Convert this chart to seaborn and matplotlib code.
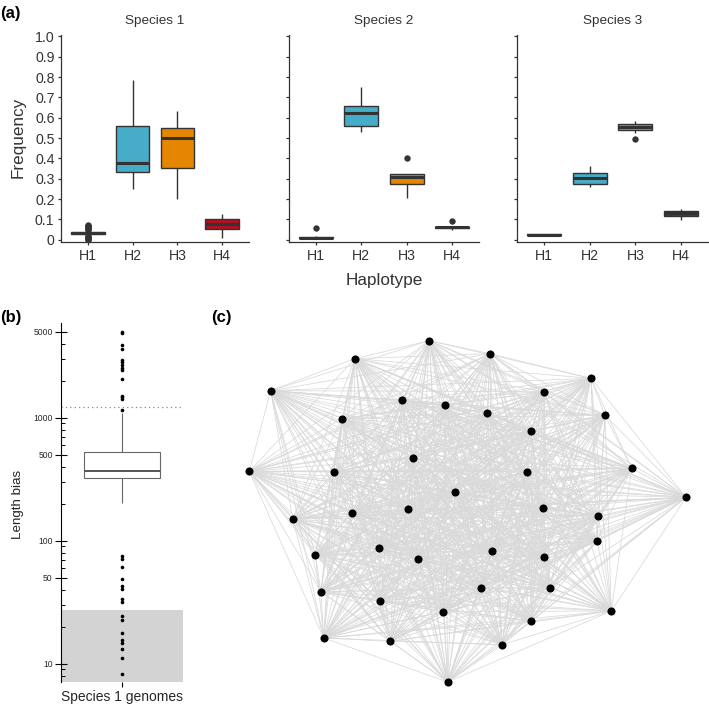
import itertools
import numpy as np
import pandas as pd
import matplotlib
matplotlib.use('Agg')
import matplotlib.pyplot as plt
from matplotlib.collections import LineCollection
import seaborn as sns

# ---- (a) haplotype frequencies: (min, q1, median, q3, max) per haplotype ----
haplotypes = ['H1', 'H2', 'H3', 'H4']
hap_colors = ['#E2D200', '#46ACC8', '#E58601', '#B40F20']
species = ['Species 1', 'Species 2', 'Species 3']

sp1_boxes = [[0.024, 0.029, 0.034, 0.039, 0.045],
             [0.249, 0.331, 0.377, 0.557, 0.784],
             [0.200, 0.354, 0.500, 0.548, 0.634],
             [0.011, 0.051, 0.079, 0.100, 0.128]]
sp2_boxes = [[0.003, 0.007, 0.011, 0.015, 0.019],
             [0.531, 0.559, 0.623, 0.659, 0.751],
             [0.207, 0.275, 0.308, 0.325, 0.325],
             [0.050, 0.056, 0.061, 0.065, 0.068]]
sp3_boxes = [[0.020, 0.021, 0.025, 0.029, 0.030],
             [0.257, 0.275, 0.302, 0.330, 0.364],
             [0.525, 0.541, 0.556, 0.569, 0.585],
             [0.098, 0.116, 0.130, 0.143, 0.152]]

sp1_outliers = [[0.0, 0.004, 0.008, 0.012, 0.016, 0.020, 0.050, 0.054, 0.058,
                 0.062, 0.066, 0.070, 0.074], [], [], []]
sp2_outliers = [[0.057], [], [0.403], [0.093]]
sp3_outliers = [[], [], [0.497], []]

freq_ticks = [0, 0.1, 0.2, 0.3, 0.4, 0.5, 0.6, 0.7, 0.8, 0.9, 1.0]
freq_labels = ['0', '0.1', '0.2', '0.3', '0.4', '0.5', '0.6', '0.7', '0.8', '0.9', '1.0']

# ---- (b) length bias ----
lb_category = 'Species 1 genomes'
lb_box = [204, 325, 371, 530, 1095]
lb_high = [4966, 4870, 3873, 3614, 2963, 2818, 2681, 2564, 2455, 2062,
           1510, 1463, 1418, 1147]
lb_low = [75.5, 71, 60.7, 48.8, 43, 40.4, 33.6, 31.9, 24.3, 22.8, 17.9,
          15.7, 14.7, 13.2, 11.1, 8.2]
lb_upper_cut = 1228
lb_lower_cut = 27.5
lb_major = [10, 50, 100, 500, 1000, 5000]
lb_minor = [8, 9, 20, 30, 40, 60, 70, 80, 90, 200, 300, 400, 600, 700, 800,
            900, 2000, 3000, 4000]

# ---- (c) network node positions ----
node_x = [628, 405, 810, 152, 1113, 972, 547, 675, 802, 367, 1155, 933, 579, 88,
          341, 922, 1235, 706, 1398, 563, 397, 968, 218, 1135, 1131, 476, 817,
          593, 286, 972, 303, 782, 990, 479, 670, 1174, 933, 311, 511, 846, 683]
node_y = [122, 176, 161, 272, 235, 275, 300, 316, 338, 356, 346, 394, 474, 514,
          516, 515, 505, 575, 592, 628, 638, 625, 657, 648, 723, 744, 752, 777,
          764, 770, 875, 864, 863, 903, 935, 933, 963, 1014, 1024, 1034, 1146]

sns.set_theme(style='ticks')
plt.rcParams['font.family'] = ['Liberation Sans', 'DejaVu Sans']
dark = '#333333'

fig = plt.figure(figsize=(7.09, 7.07), dpi=100)
W, H = 709, 707


def px_axes(left, top, right, bottom):
    return fig.add_axes([left / W, 1 - bottom / H, (right - left) / W, (bottom - top) / H])


panel_a = [(61.2, 248.8, sp1_boxes, sp1_outliers),
           (288.8, 479.2, sp2_boxes, sp2_outliers),
           (516.6, 708.4, sp3_boxes, sp3_outliers)]

for k, (x0, x1, boxes, outs) in enumerate(panel_a):
    ax = px_axes(x0, 34.7, x1, 242)
    df = pd.DataFrame({'hap': np.repeat(haplotypes, [len(b) for b in boxes]),
                       'freq': np.concatenate(boxes)})
    sns.boxplot(data=df, x='hap', y='freq', hue='hap', order=haplotypes,
                hue_order=haplotypes, palette=hap_colors, legend=False,
                whis=(0, 100), showfliers=False, showcaps=False, width=0.75,
                linewidth=1.0, linecolor=dark, saturation=1,
                medianprops=dict(linewidth=2.2, color=dark), ax=ax)
    odf = pd.DataFrame({'hap': np.repeat(haplotypes, [len(o) for o in outs]),
                        'freq': np.concatenate([o for o in outs])})
    if len(odf):
        sns.stripplot(data=odf, x='hap', y='freq', order=haplotypes, jitter=False,
                      color=dark, size=4.6, linewidth=0, ax=ax, zorder=4)
    ax.set_xlim(-0.6, 3.6)
    ax.set_ylim(-0.011, 1.008)
    ax.set_yticks(freq_ticks)
    ax.set_yticklabels(freq_labels if k == 0 else [''] * len(freq_ticks))
    ax.set_xlabel('')
    ax.set_ylabel('')
    ax.set_facecolor('none')
    for s in ['top', 'right']:
        ax.spines[s].set_visible(False)
    for s in ['left', 'bottom']:
        ax.spines[s].set_color(dark)
        ax.spines[s].set_linewidth(0.9)
    ax.tick_params(length=2.3, width=0.9, color=dark, labelcolor=dark,
                   labelsize=10.2, pad=2.5)
    fig.text((x0 + x1) / 2 / W, 1 - 21 / H, species[k], ha='center', va='center',
             fontsize=9.7, color=dark)

fig.text(18 / W, 1 - 137 / H, 'Frequency', rotation=90, ha='center', va='center',
         fontsize=12.3, color=dark)
fig.text(384 / W, 1 - 280 / H, 'Haplotype', ha='center', va='center',
         fontsize=12.3, color=dark)

# ---- (b) ----
axb = px_axes(60.7, 323, 182.7, 682)
sns.boxplot(x=[lb_category] * len(lb_box), y=lb_box, whis=(0, 100),
            showfliers=False, showcaps=False, width=0.62, color='white',
            linecolor='#666666', linewidth=0.8, saturation=1, log_scale=True,
            medianprops=dict(linewidth=1.4, color='#555555'), ax=axb)
sns.stripplot(x=[lb_category] * len(lb_high + lb_low), y=lb_high + lb_low,
              jitter=False, color='black', size=2.6, linewidth=0,
              log_scale=True, ax=axb, zorder=4)
axb.axhspan(6, lb_lower_cut, color='#d3d3d3', lw=0, zorder=0)
axb.axhline(lb_upper_cut, color='#888888', ls=(0, (1, 2.5)), lw=0.9, zorder=1)
axb.set_xlim(-0.5, 0.5)
axb.set_ylim(7.1, 5900)
axb.set_yticks(lb_major)
axb.set_yticklabels([str(v) for v in lb_major])
axb.set_yticks(lb_minor, minor=True)
axb.set_yticklabels([''] * len(lb_minor), minor=True)
axb.set_xlabel('')
axb.set_ylabel('')
axb.set_facecolor('none')
for s in ['top', 'right', 'bottom']:
    axb.spines[s].set_visible(False)
axb.spines['left'].set_color('black')
axb.spines['left'].set_linewidth(0.8)
axb.tick_params(axis='y', which='major', direction='inout', length=8.5, width=0.8,
                labelsize=6.2, pad=1.5, color='black')
axb.tick_params(axis='y', which='minor', direction='in', length=3, width=0.7,
                color='black')
axb.tick_params(axis='x', length=3.5, width=0.8, labelsize=10, pad=2, color='black')
fig.text(18 / W, 1 - 504 / H, 'Length bias', rotation=90, ha='center',
         va='center', fontsize=9.6, color='#222222')

# ---- (c) ----
axc = px_axes(220, 300, 709, 707)
edges = [[(node_x[i], node_y[i]), (node_x[j], node_y[j])]
         for i, j in itertools.combinations(range(len(node_x)), 2)]
axc.add_collection(LineCollection(edges, colors='#d9d9d9', linewidths=0.55, zorder=1))
sns.scatterplot(x=node_x, y=node_y, color='black', s=34, linewidth=0, ax=axc, zorder=3)
axc.set_xlim(0, 1467)
axc.set_ylim(1221, 0)
axc.axis('off')

# panel letters
for lbl, x, y in [('(a)', 0, 13.5), ('(b)', 0, 317.5), ('(c)', 211, 317.5)]:
    fig.text(x / W, 1 - y / H, lbl, ha='left', va='center', fontsize=12,
             fontweight='bold', color='black')

fig.savefig('out.png', dpi=100)
